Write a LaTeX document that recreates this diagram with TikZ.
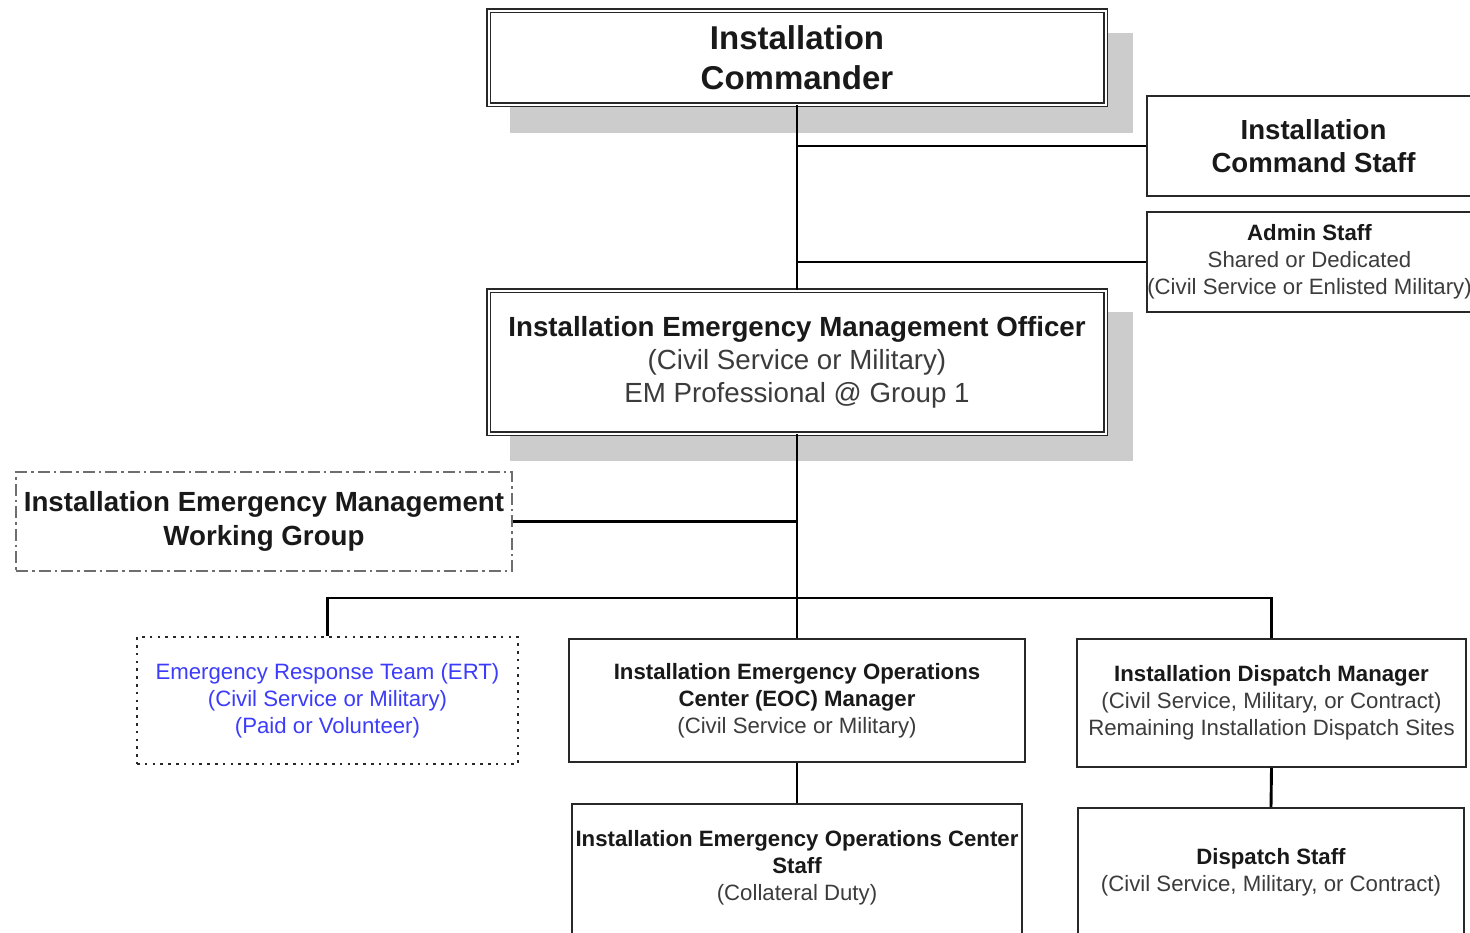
\documentclass[tikz,border=0pt]{standalone}
\usepackage{fontspec}
\setmainfont{Liberation Sans}
\definecolor{shadowgray}{RGB}{204,204,204}
\definecolor{txtgray}{RGB}{60,60,60}
\definecolor{boldtxt}{RGB}{25,25,25}
\definecolor{ertblue}{RGB}{60,60,250}
\definecolor{boxline}{RGB}{40,40,40}
\definecolor{dashline}{RGB}{110,110,110}
\tikzset{
  base/.style={draw=boxline, line width=1.8pt, fill=white, align=center, inner sep=0pt,
    text=boldtxt, font=\fontsize{22.2}{27}\selectfont},
  bigbox/.style={base, line width=1.6pt, double=white, double distance=2pt},
  plainbox/.style={base},
  txtonly/.style={align=center, inner sep=0pt, text=boldtxt, font=\fontsize{22.2}{27}\selectfont},
  conn/.style={line width=2.9pt, draw=black},
  shadowfill/.style={fill=shadowgray, draw=none}
}
\newcommand{\gr}[1]{\textcolor{txtgray}{#1}}
\begin{document}
\begin{tikzpicture}[x=1pt,y=-1pt]
\useasboundingbox (0,0) rectangle (1470,932);
\clip (0,0) rectangle (1470,932);
\fill[white] (0,0) rectangle (1470,932);
% shadows
\fill[shadowfill] (510,33) rectangle (1133,133);
\fill[shadowfill] (510,312) rectangle (1133,461);
% boxes
\node[bigbox, minimum width=617pt, minimum height=94pt, font=\fontsize{33}{40}\selectfont\bfseries] (cmd) at (797,57.5) {Installation\\Commander};
\node[plainbox, minimum width=333pt, minimum height=100pt, font=\fontsize{27.6}{33}\selectfont\bfseries] (cstaff) at (1313.5,146) {Installation\\Command Staff};
\node[plainbox, minimum width=325pt, minimum height=100pt] (admin) at (1309.5,262) {\textbf{Admin Staff}\\\gr{Shared or Dedicated}\\\gr{(Civil Service or Enlisted Military)}};
\node[bigbox, minimum width=617pt, minimum height=143pt, font=\fontsize{27.7}{33}\selectfont] (iemo) at (797,362) {\textbf{Installation Emergency Management Officer}\\\gr{(Civil Service or Military)}\\\gr{EM Professional @ Group 1}};
\node[plainbox, draw=dashline, line width=2pt, dash pattern=on 12pt off 4pt on 2.5pt off 4pt, minimum width=496pt, minimum height=99pt, font=\fontsize{27.7}{34}\selectfont\bfseries] (wg) at (264,521.5) {Installation Emergency Management\\Working Group};
\node[plainbox, draw=boxline, line width=2.6pt, dash pattern=on 2.6pt off 5.2pt, minimum width=381pt, minimum height=127pt, text=ertblue] (ert) at (327.5,700.5) {Emergency Response Team (ERT)\\(Civil Service or Military)\\(Paid or Volunteer)};
\node[plainbox, minimum width=456pt, minimum height=123pt] (eocm) at (797,700.5) {\textbf{Installation Emergency Operations}\\\textbf{Center (EOC) Manager}\\\gr{(Civil Service or Military)}};
\node[plainbox, minimum width=389pt, minimum height=128pt] (dispm) at (1271.5,703) {\textbf{Installation Dispatch Manager}\\\gr{(Civil Service, Military, or Contract)}\\\gr{Remaining Installation Dispatch Sites}};
\node[plainbox, minimum width=450pt, minimum height=140pt] (eocs) at (797,874) {};
\node[txtonly] (eocsT) at (797,868) {\textbf{Installation Emergency Operations Center}\\\textbf{Staff}\\\gr{(Collateral Duty)}};
\node[plainbox, minimum width=386pt, minimum height=140pt] (dsp) at (1271,878) {};
\node[txtonly] (dspT) at (1271,872.5) {\textbf{Dispatch Staff}\\\gr{(Civil Service, Military, or Contract)}};
% connectors
\coordinate (bus) at (797,598);
\draw[conn] (cmd.south) -- (iemo.north);
\draw[conn] (cstaff.west) -- (cstaff.west -| cmd.south);
\draw[conn] (admin.west) -- (admin.west -| cmd.south);
\draw[conn] (wg.east) -- (wg.east -| iemo.south);
\draw[conn] (iemo.south) -- (bus);
\draw[conn] (ert.north) |- (dispm.north |- bus) -- (dispm.north);
\draw[conn] (bus) -- (eocm.north);
\draw[conn] (eocm.south) -- (eocs.north);
\draw[conn] (dispm.south) -- (dsp.north);
\end{tikzpicture}
\end{document}
